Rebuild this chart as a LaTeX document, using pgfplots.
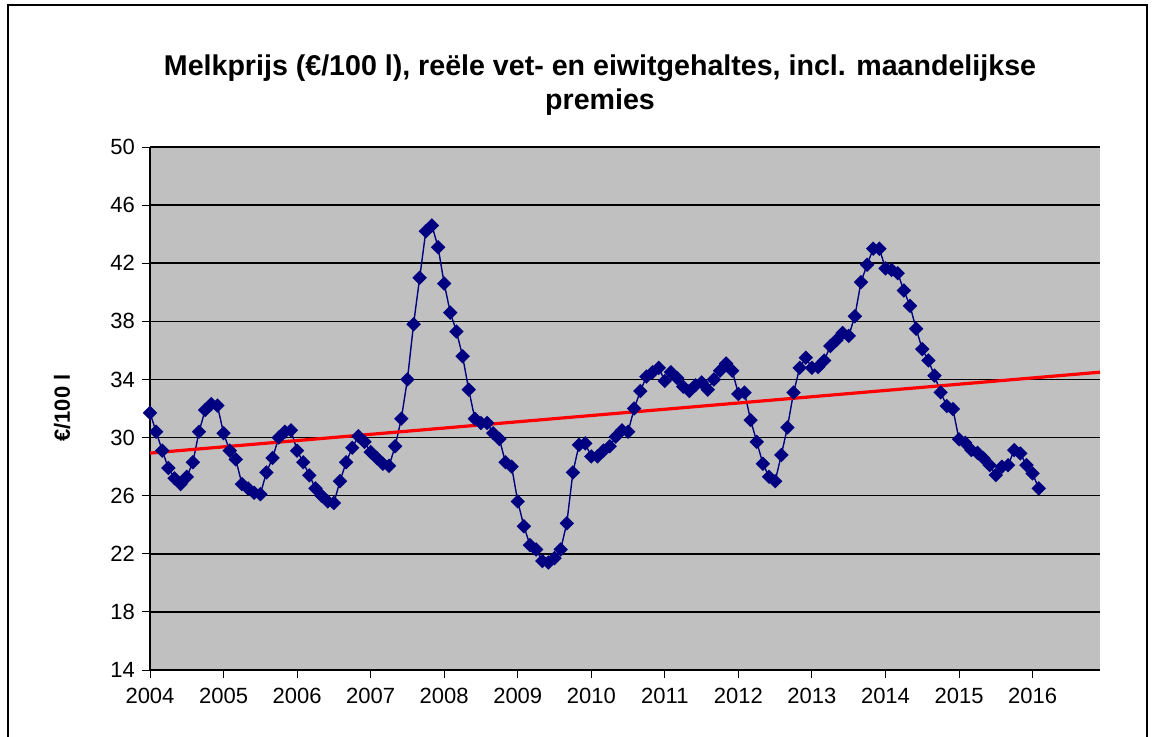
\documentclass[border=0pt]{standalone}
\usepackage{pgfplots}
\pgfplotsset{compat=1.18}
\usepackage{fontspec}
\setmainfont{Liberation Sans}
\definecolor{plotgray}{RGB}{192,192,192}
\definecolor{navyblue}{RGB}{0,0,128}
\begin{document}
\begin{tikzpicture}
\useasboundingbox (0,0) rectangle (576pt,368pt);
\fill[white] (0,0) rectangle (576pt,368pt);
\draw[line width=1pt] (4pt,-5pt) -- (4pt,365.5pt) -- (573.5pt,365.5pt) -- (573.5pt,-5pt);
\node[font=\bfseries\fontsize{14.3}{17.2}\selectfont, align=center] at (300pt,325.5pt)
  {Melkprijs (€/100 l), reële vet- en eiwitgehaltes, incl. maandelijkse\\premies};
\node[rotate=90, font=\bfseries\fontsize{11}{13}\selectfont] at (31pt,164pt) {€/100 l};
\begin{axis}[
  at={(75pt,33pt)}, anchor=south west, scale only axis,
  width=475pt, height=261.5pt,
  xmin=0, xmax=155, ymin=14, ymax=50,
  xtick={0,12,24,36,48,60,72,84,96,108,120,132,144},
  xticklabels={2004,2005,2006,2007,2008,2009,2010,2011,2012,2013,2014,2015,2016},
  ytick={14,18,...,50},
  axis background/.style={fill=plotgray},
  axis lines=left,
  axis line style={-, line width=1pt, black},
  ymajorgrids, grid style={black, line width=0.75pt},
  tick align=outside, major tick length=4pt,
  tick style={black, line width=0.5pt},
  ticklabel style={font=\fontsize{11}{13}\selectfont},
  xticklabel style={yshift=-1.5pt},
  /pgf/number format/assume math mode=true,
]
\addplot[navyblue, line width=0.7pt, mark=square*, mark size=2.2pt,
  mark options={rotate=45, fill=navyblue, draw=navyblue, solid}] table {
x y
0 31.7
1 30.4
2 29.1
3 27.9
4 27.2
5 26.8
6 27.3
7 28.3
8 30.4
9 31.9
10 32.3
11 32.2
12 30.3
13 29.1
14 28.5
15 26.8
16 26.5
17 26.2
18 26.1
19 27.6
20 28.6
21 30.0
22 30.4
23 30.5
24 29.1
25 28.3
26 27.4
27 26.5
28 26.0
29 25.6
30 25.5
31 27.0
32 28.3
33 29.3
34 30.1
35 29.7
36 29.0
37 28.6
38 28.2
39 28.05
40 29.4
41 31.3
42 34.0
43 37.8
44 41.0
45 44.2
46 44.6
47 43.1
48 40.6
49 38.6
50 37.3
51 35.6
52 33.3
53 31.3
54 31.0
55 31.0
56 30.3
57 29.9
58 28.3
59 28.0
60 25.6
61 23.9
62 22.6
63 22.3
64 21.5
65 21.4
66 21.7
67 22.3
68 24.1
69 27.6
70 29.5
71 29.6
72 28.7
73 28.7
74 29.1
75 29.4
76 30.06
77 30.5
78 30.4
79 32.0
80 33.2
81 34.2
82 34.5
83 34.8
84 33.9
85 34.5
86 34.1
87 33.5
88 33.2
89 33.6
90 33.8
91 33.3
92 34.0
93 34.6
94 35.1
95 34.6
96 33.0
97 33.1
98 31.2
99 29.7
100 28.2
101 27.3
102 27.0
103 28.8
104 30.7
105 33.1
106 34.8
107 35.5
108 34.8
109 34.85
110 35.3
111 36.3
112 36.7
113 37.2
114 37.0
115 38.35
116 40.7
117 41.9
118 43.0
119 43.0
120 41.65
121 41.54
122 41.31
123 40.12
124 39.07
125 37.49
126 36.09
127 35.31
128 34.26
129 33.11
130 32.17
131 31.96
132 29.88
133 29.64
134 29.14
135 28.95
136 28.57
137 28.1
138 27.42
139 27.99
140 28.1
141 29.14
142 28.91
143 28.1
144 27.53
145 26.5
};
\addplot[red, line width=1.6pt] coordinates {(0,28.93) (155,34.5)};
\end{axis}
\end{tikzpicture}
\end{document}
